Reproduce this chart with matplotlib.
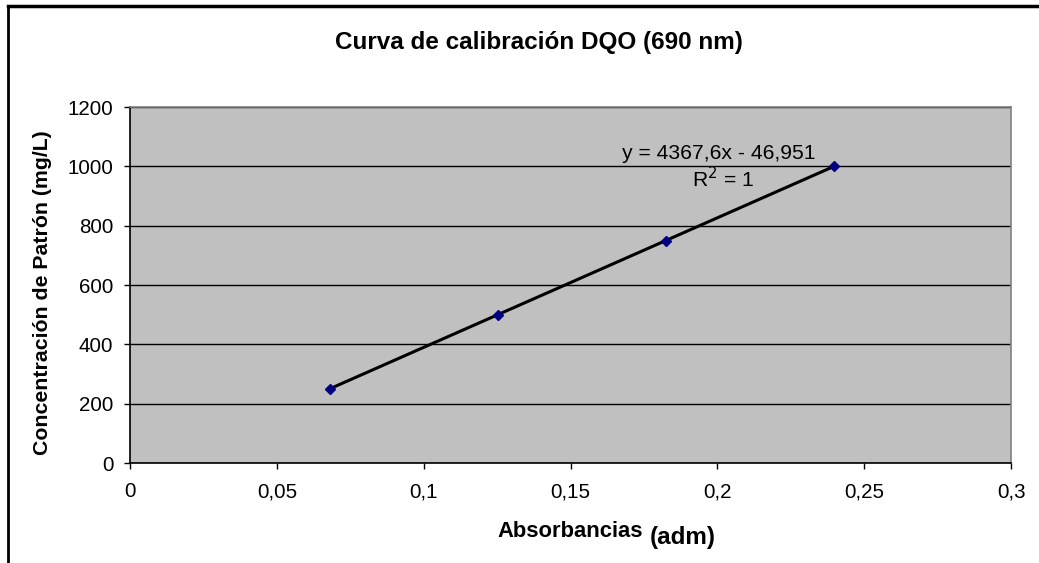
import matplotlib.pyplot as plt
from matplotlib.lines import Line2D

plt.rcParams['font.family'] = ['Liberation Sans', 'DejaVu Sans']

# calibration standards
absorbancia = [0.06799, 0.12523, 0.18247, 0.23971]
concentracion = [250, 500, 750, 1000]

x_ticks = [0, 0.05, 0.1, 0.15, 0.2, 0.25, 0.3]
x_labels = ['0', '0,05', '0,1', '0,15', '0,2', '0,25', '0,3']
y_ticks = [0, 200, 400, 600, 800, 1000, 1200]

pendiente = 4367.6
intercepto = -46.951

fig = plt.figure(figsize=(10.39, 5.63), dpi=100)
ax = fig.add_axes([0.1251, 0.1776, 0.848, 0.6323])
ax.set_facecolor('#C0C0C0')

# trendline over the range of the standards
x0, x1 = absorbancia[0], absorbancia[-1]
ax.plot([x0, x1], [pendiente * x0 + intercepto, pendiente * x1 + intercepto],
        color='black', lw=2.2, zorder=3)
ax.plot(absorbancia, concentracion, linestyle='none', marker='D',
        markersize=5.5, color='#000080', zorder=4)

ax.set_xlim(0, 0.3)
ax.set_ylim(0, 1200)
ax.set_xticks(x_ticks)
ax.set_xticklabels(x_labels)
ax.set_yticks(y_ticks)
ax.set_yticklabels([str(v) for v in y_ticks])
ax.yaxis.grid(True, color='black', lw=1.0)
ax.set_axisbelow(True)

ax.tick_params(axis='both', direction='out', length=4, width=1,
               labelsize=14.8, color='black')
ax.tick_params(axis='x', pad=10)
ax.tick_params(axis='y', pad=8)

for s in ['top', 'right']:
    ax.spines[s].set_color('#808080')
    ax.spines[s].set_linewidth(1.2)
for s in ['left', 'bottom']:
    ax.spines[s].set_color('black')
    ax.spines[s].set_linewidth(1.2)

ax.text(0.2006, 1042, 'y = 4367,6x - 46,951', ha='center', va='center', fontsize=15.2)
ax.text(0.2020, 960, r'R$^2$ = 1', ha='center', va='center', fontsize=15.2)

fig.text(0.519, 0.924, 'Curva de calibración DQO (690 nm)', ha='center', va='center',
         fontsize=17.5, fontweight='bold')
# x label: "(adm)" sits a little lower than the rest
fig.text(0.619, 0.056, 'Absorbancias', ha='right', va='center',
         fontsize=15.8, fontweight='bold')
fig.text(0.6256, 0.046, '(adm)', ha='left', va='center',
         fontsize=17.5, fontweight='bold')
fig.text(0.041, 0.481, 'Concentración de Patrón (mg/L)', ha='center', va='center',
         rotation=90, fontsize=15.3, fontweight='bold')

# chart frame, left and top edges
fig.add_artist(Line2D([8 / 1039, 8 / 1039], [0, 1 - 6 / 563], color='black', lw=2,
                      transform=fig.transFigure))
fig.add_artist(Line2D([8 / 1039, 1], [1 - 6 / 563, 1 - 6 / 563], color='black', lw=2.5,
                      transform=fig.transFigure))

fig.savefig('out.png', dpi=100)
